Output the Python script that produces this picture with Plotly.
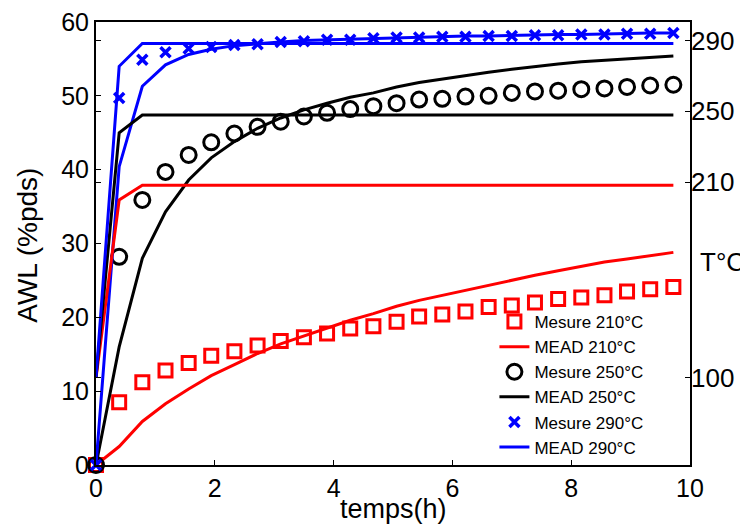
import plotly.graph_objects as go

# time (h)
temps = [0, 0.39, 0.78, 1.17, 1.56, 1.94, 2.33, 2.72, 3.11, 3.50, 3.89, 4.28, 4.67,
         5.06, 5.44, 5.83, 6.22, 6.61, 7.00, 7.39, 7.78, 8.17, 8.56, 8.94, 9.33, 9.72]

mesure_210 = [0, 8.5, 11.2, 12.8, 13.8, 14.8, 15.4, 16.2, 16.8, 17.3, 17.8, 18.5, 18.8,
              19.4, 20.1, 20.4, 20.8, 21.4, 21.6, 22.0, 22.5, 22.7, 23.0, 23.5, 23.8, 24.1]
mead_210 = [0, 2.5, 5.9, 8.3, 10.3, 12.1, 13.6, 15.1, 16.4, 17.5, 18.5, 19.6, 20.5,
            21.5, 22.3, 23.0, 23.7, 24.4, 25.1, 25.7, 26.3, 26.9, 27.5, 27.9, 28.4, 28.8]

mesure_250 = [0, 28.2, 35.9, 39.7, 42.0, 43.7, 44.9, 45.8, 46.5, 47.2, 47.7, 48.2, 48.6,
              49.0, 49.5, 49.6, 49.9, 50.0, 50.4, 50.6, 50.7, 50.9, 51.0, 51.2, 51.4, 51.5]
mead_250 = [0, 16.0, 28.0, 34.3, 38.6, 41.6, 43.8, 45.6, 47.0, 48.1, 49.0, 49.8, 50.4,
            51.2, 51.8, 52.3, 52.8, 53.2, 53.6, 54.0, 54.3, 54.6, 54.8, 55.0, 55.2, 55.4]

mesure_290 = [0, 49.7, 54.9, 55.9, 56.4, 56.6, 56.9, 57.0, 57.3, 57.4, 57.6, 57.6, 57.8,
              57.9, 57.9, 58.0, 58.0, 58.1, 58.1, 58.2, 58.2, 58.3, 58.3, 58.4, 58.4, 58.5]
mead_290 = [0, 40.4, 51.3, 54.2, 55.6, 56.3, 56.8, 57.1, 57.3, 57.5, 57.6, 57.7, 57.8,
            57.9, 58.0, 58.0, 58.1, 58.1, 58.2, 58.2, 58.3, 58.3, 58.4, 58.4, 58.5, 58.5]

# temperature profiles (drawn on the same scale, labelled on the right)
temps_T = [0, 0.39, 0.78, 9.72]
T_210 = [11.8, 35.9, 37.9, 37.9]
T_250 = [11.8, 45.0, 47.4, 47.4]
T_290 = [11.8, 54.0, 57.1, 57.1]

T_tickvals = [11.8, 38.3, 47.9, 57.5]
T_ticktext = ["100", "210", "250", "290"]

RED, BLACK, BLUE = "#ff0000", "#000000", "#0000ff"
FONT = "Liberation Sans, Arial, Helvetica, sans-serif"

fig = go.Figure()

# temperature profile lines
for ys, c in [(T_210, RED), (T_250, BLACK), (T_290, BLUE)]:
    fig.add_trace(go.Scatter(x=temps_T, y=ys, mode="lines", yaxis="y2",
                             line=dict(color=c, width=3), showlegend=False,
                             hoverinfo="skip"))

fig.add_trace(go.Scatter(x=temps, y=mesure_210, mode="markers", name="Mesure 210°C",
                         cliponaxis=False,
                         marker=dict(symbol="square-open", size=13, color=RED,
                                     line=dict(width=3, color=RED))))
fig.add_trace(go.Scatter(x=temps, y=mead_210, mode="lines", name="MEAD 210°C",
                         line=dict(color=RED, width=3)))
fig.add_trace(go.Scatter(x=temps, y=mesure_250, mode="markers", name="Mesure 250°C",
                         cliponaxis=False,
                         marker=dict(symbol="circle-open", size=15, color=BLACK,
                                     line=dict(width=3, color=BLACK))))
fig.add_trace(go.Scatter(x=temps, y=mead_250, mode="lines", name="MEAD 250°C",
                         line=dict(color=BLACK, width=3)))
fig.add_trace(go.Scatter(x=temps, y=mesure_290, mode="markers", name="Mesure 290°C",
                         cliponaxis=False,
                         marker=dict(symbol="x-thin", size=10, color=BLUE,
                                     line=dict(width=3.5, color=BLUE))))
fig.add_trace(go.Scatter(x=temps, y=mead_290, mode="lines", name="MEAD 290°C",
                         line=dict(color=BLUE, width=3)))

# the page body adds an 8 px offset, so the figure is 740x516
fig.update_layout(
    width=740, height=516,
    margin=dict(l=88, r=58, t=14, b=59, autoexpand=False),
    paper_bgcolor="white", plot_bgcolor="white",
    font=dict(family=FONT, color="black", size=25),
    xaxis=dict(range=[0, 10], tickvals=[0, 2, 4, 6, 8, 10], showgrid=False, zeroline=False,
               showline=True, linecolor="black", linewidth=2, mirror=True,
               ticks="inside", ticklen=5, tickcolor="black", automargin=False,
               ticklabeloverflow="allow", tickfont=dict(size=25)),
    yaxis=dict(range=[0, 60], tickvals=[0, 10, 20, 30, 40, 50, 60], showgrid=False,
               zeroline=False, showline=True, linecolor="black", linewidth=2, mirror=True,
               ticks="inside", ticklen=5, tickcolor="black", automargin=False,
               ticklabeloverflow="allow", tickfont=dict(size=25)),
    yaxis2=dict(range=[0, 60], overlaying="y", side="right", showgrid=False,
                zeroline=False, showline=False, tickvals=T_tickvals, ticktext=T_ticktext,
                ticks="inside", ticklen=5, tickcolor="black", mirror="ticks",
                automargin=False, ticklabeloverflow="allow", tickfont=dict(size=26)),
    legend=dict(x=0.93, y=0, xanchor="right", yanchor="bottom",
                bgcolor="rgba(255,255,255,0)", borderwidth=0,
                font=dict(size=17), tracegroupgap=0, itemwidth=30),
    annotations=[
        dict(text="T°C", x=1, xref="paper", y=27.5, yref="y",
             xanchor="left", xshift=8, showarrow=False, font=dict(size=26, family=FONT)),
        dict(text="temps(h)", x=0.5, xref="paper", y=0, yref="paper",
             xanchor="center", yanchor="middle", yshift=-44, showarrow=False,
             font=dict(size=27, family=FONT)),
        dict(text="AWL (%pds)", x=0, xref="paper", y=0.495, yref="paper",
             xanchor="center", yanchor="middle", xshift=-68, textangle=-90,
             showarrow=False, font=dict(size=28, family=FONT)),
    ],
)

fig.write_html("out.html")
